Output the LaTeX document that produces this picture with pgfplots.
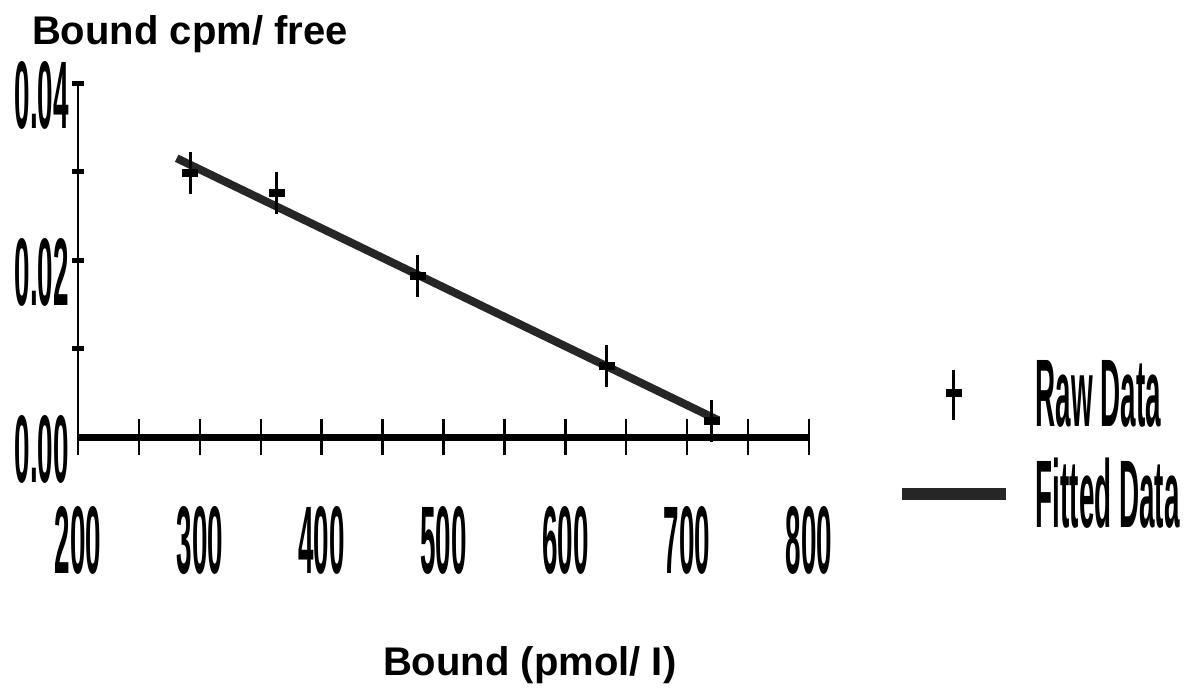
\documentclass[border=0pt]{standalone}
\usepackage{graphicx}
\usepackage{pgfplots}
\pgfplotsset{compat=1.18}
\usepackage{fontspec}
\setmainfont{Liberation Sans}
% tall, narrow labels as in the scanned figure
\newcommand\cond[1]{\scalebox{0.29}[1]{\fontsize{48}{48}\selectfont\bfseries #1}}

\begin{document}
\begin{tikzpicture}
\useasboundingbox (0,0) rectangle (593.5pt,-344.5pt);
\begin{axis}[
    at={(39pt,-218.5pt)}, anchor=south west,
    scale only axis, width=365.5pt, height=177pt,
    xmin=200, xmax=800, ymin=0, ymax=0.04,
    clip=false,
    scaled y ticks=false,
    axis x line=bottom, axis y line=left,
    x axis line style={line width=3.5pt, -},
    y axis line style={line width=1pt, -},
    xtick={200,300,...,800},
    minor xtick={250,350,...,750},
    xticklabels={\cond{200},\cond{300},\cond{400},\cond{500},\cond{600},\cond{700},\cond{800}},
    tick align=center,
    major tick length=18pt, minor tick length=18pt,
    xtick style={line width=1.2pt, black},
    xticklabel style={anchor=north, yshift=-22pt},
    ytick={0,0.02,0.04},
    yticklabels={\cond{0.00},\cond{0.02},\cond{0.04}},
    ytick style={draw=none},
    yticklabel style={anchor=east, yshift=-6pt, xshift=8pt},
    legend style={at={(1.11,0.24)}, anchor=north west, draw=none, fill=none,
        row sep=10pt, cells={anchor=west},
        /tikz/every odd column/.append style={column sep=10pt}},
]

% y tick marks (short and thick)
\addplot[only marks, mark=-, mark size=3pt, mark options={line width=2.5pt}, forget plot]
coordinates {(200,0.01) (200,0.02) (200,0.03) (200,0.04)};

% Raw data
\addplot[only marks, mark=|, mark size=10.5pt, mark options={line width=1.5pt},
    legend image code/.code={
        \draw[line width=1.5pt] (26pt,-12.5pt) -- (26pt,12.5pt);
        \draw[line width=4pt] (22pt,1pt) -- (30pt,1pt);
    }]
coordinates {
(292,0.0298)
(363,0.0276)
(479,0.0182)
(634,0.0080)
(720,0.0018)
};
\addlegendentry{\cond{Raw Data}}

\addplot[only marks, mark=-, mark size=4pt, mark options={line width=4pt}, forget plot]
coordinates {
(292,0.0298)
(363,0.0276)
(479,0.0182)
(634,0.0080)
(720,0.0018)
};

% Fitted line
\addplot[line width=4pt, black!85,
    legend image code/.code={
        \draw[line width=6pt, black!85] (0pt,0pt) -- (52pt,0pt);
    }]
coordinates {(281,0.0315) (725.5,0.0019)};
\addlegendentry{\cond{Fitted Data}}

\end{axis}

\node[anchor=base west, font=\bfseries\fontsize{20}{20}\selectfont] at (12.5pt,-22.5pt) {Bound cpm/ free};
\node[anchor=base west, font=\bfseries\fontsize{20}{20}\selectfont] at (188pt,-337.5pt) {Bound (pmol/ I)};
\end{tikzpicture}
\end{document}
